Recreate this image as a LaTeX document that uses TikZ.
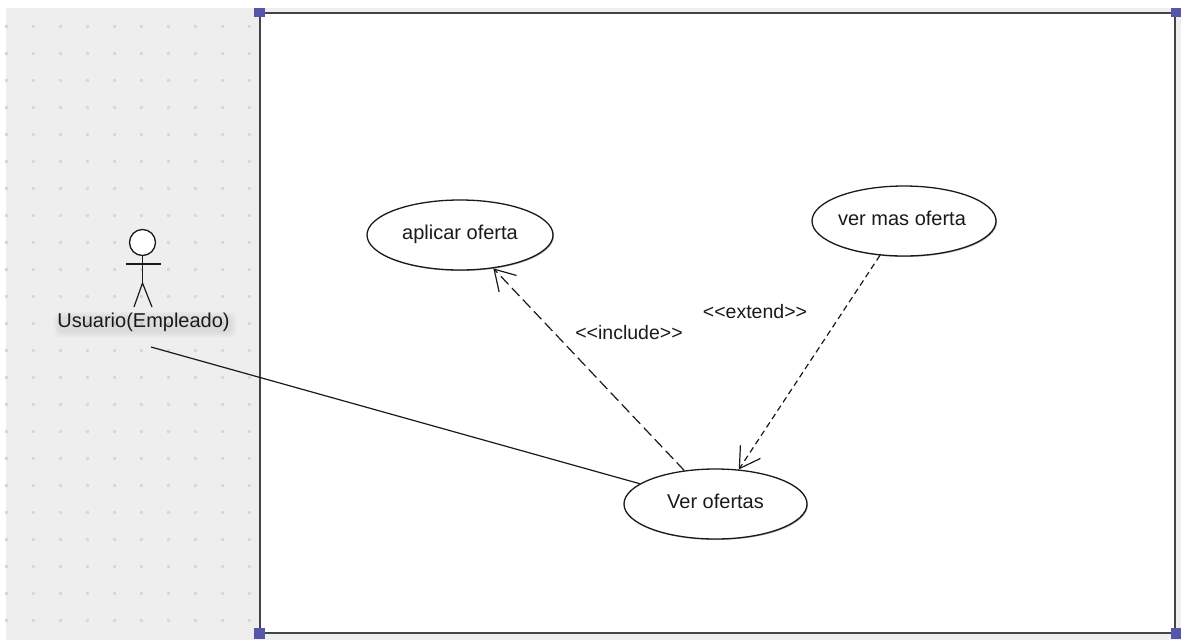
\documentclass[tikz,border=0pt]{standalone}
\usepackage{fontspec}
\setmainfont{Liberation Sans}
\usetikzlibrary{arrows.meta,shapes.geometric,shadows}
\definecolor{canvas}{HTML}{EEEEEE}
\definecolor{griddot}{HTML}{D8D8D8}
\definecolor{handle}{HTML}{5555AA}
\definecolor{framecol}{HTML}{444444}
\definecolor{inkcol}{HTML}{1A1A1A}
\tikzset{
  usecase/.style={ellipse,draw=inkcol,line width=1.3pt,fill=white,inner sep=0pt,text=inkcol,
    font=\fontsize{20}{22}\selectfont,
    drop shadow={shadow xshift=1pt,shadow yshift=-1pt,fill=black,opacity=0.3}},
  handlebox/.style={rectangle,fill=handle,minimum size=11pt,inner sep=0pt},
  actorline/.style={draw=inkcol,line width=1.2pt},
  openhead/.style={-{Straight Barb[length=20pt,width=24pt,line width=1.2pt]}},
  rel/.style={draw=inkcol,line width=1.2pt},
  stereotype/.style={inner sep=0pt,text=inkcol,font=\fontsize{19.5}{22}\selectfont},
  halo/.style={fill=black,opacity=0.025,rounded corners=6pt},
}
\begin{document}
\begin{tikzpicture}[x=1pt,y=-1pt]
\useasboundingbox (0,0) rectangle (1181,643);
\fill[white] (0,0) rectangle (1181,643);
\fill[canvas] (6,8) rectangle (1181,640);
\foreach \gx in {6,33,60,87,114,141,168,195,222,249}
  \foreach \gy in {26,53,...,620}
    \fill[griddot] (\gx-1.5,\gy-1) rectangle (\gx+1.5,\gy+2);
\node[rectangle,draw=framecol,fill=white,line width=2pt,minimum width=915pt,minimum height=620pt,inner sep=0pt,anchor=north west] (frame) at (259.2,11.5) {};
\begin{scope}
\clip (0,8) rectangle (1181,643);
\node[handlebox] (h1) at (frame.north west) {};
\node[handlebox] (h2) at (frame.north east) {};
\node[handlebox] (h3) at (frame.south west) {};
\node[handlebox] (h4) at (frame.south east) {};
\end{scope}
% actor
\node[circle,draw=inkcol,fill=white,line width=1.3pt,minimum size=26pt,inner sep=0pt] (head) at (142.5,242.5) {};
\coordinate (hip) at (142.5,283);
\coordinate (armL) at (125.5,264);
\coordinate (armR) at (160.5,264);
\coordinate (footL) at (134,307);
\coordinate (footR) at (152,307);
\draw[actorline] (head.south) -- (hip);
\draw[actorline] (armL) -- (armR);
\draw[actorline,line join=round] (footL) -- (hip) -- (footR);
\fill[halo] (54,312) rectangle (236,337);
\fill[halo] (56,314) rectangle (234,335);
\fill[halo] (58,316) rectangle (232,333);
\node[inner sep=0pt,text=inkcol,font=\fontsize{20}{22}\selectfont] (actorlabel) at (143.5,322.5) {Usuario(Empleado)};
\coordinate (assocstart) at (151,347);
% use cases
\node[usecase,minimum width=186pt,minimum height=70pt] (aplicar) at (460,235) {\raisebox{6pt}{aplicar oferta}};
\node[usecase,minimum width=184pt,minimum height=70pt] (vermas) at (904,221) {\hspace*{-4pt}\raisebox{6pt}{ver mas oferta}};
\node[usecase,minimum width=183pt,minimum height=70pt] (ver) at (715.5,504) {\raisebox{6pt}{Ver ofertas}};
% connectors
\draw[rel] (assocstart) -- (ver.165.3);
\draw[rel,openhead,dash pattern=on 11pt off 5pt] (ver.133.7) -- (aplicar.-45.8);
\draw[rel,openhead,dash pattern=on 6pt off 4pt] (vermas.-125.4) -- (ver.56.4);
\node[stereotype] (incl) at (629,332.5) {<{}<include>{}>};
\node[stereotype] (ext) at (755,312) {<{}<extend>{}>};
\end{tikzpicture}
\end{document}
